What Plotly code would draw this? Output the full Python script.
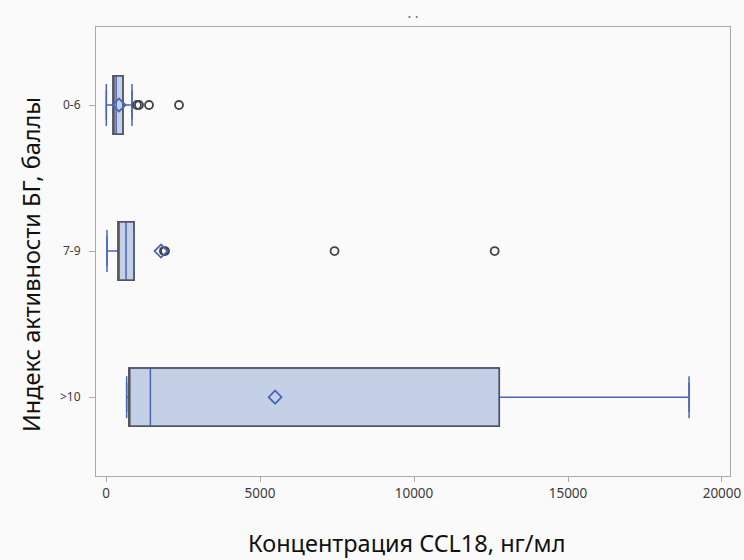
import plotly.graph_objects as go

categories = ["0-6", "7-9", ">10"]
q1 = [227, 390, 740]
median = [330, 650, 1440]
q3 = [552, 909, 12770]
lower_fence = [10, 32, 670]
upper_fence = [844, 909, 18930]
means = [422, 1786, 5490]
outlier_cat = ["0-6", "0-6", "0-6", "0-6", "7-9", "7-9", "7-9", "7-9"]
outlier_val = [1006, 1071, 1396, 2370, 1880, 1916, 7420, 12620]

x_tickvals = [0, 5000, 10000, 15000, 20000]
x_title = "Концентрация CCL18, нг/мл"
y_title = "Индекс активности БГ, баллы"

BLUE = "#4a66b8"
GRAY = "#555555"
FILL = "rgba(196,208,230,1)"

fig = go.Figure()

fig.add_trace(go.Box(
    y=categories, q1=q1, median=median, q3=q3,
    lowerfence=lower_fence, upperfence=upper_fence,
    orientation="h", width=0.4, fillcolor=FILL,
    line=dict(color=BLUE, width=1.5), boxpoints=False,
    hoverinfo="skip", showlegend=False,
))
fig.add_trace(go.Box(
    y=categories, q1=q1, median=q1, q3=q3,
    lowerfence=q1, upperfence=q3,
    orientation="h", width=0.4, fillcolor="rgba(0,0,0,0)",
    line=dict(color=GRAY, width=1.5), boxpoints=False,
    hoverinfo="skip", showlegend=False,
))
fig.add_trace(go.Scatter(
    x=lower_fence + upper_fence, y=categories + categories, mode="markers",
    marker=dict(symbol="line-ns", size=30, line=dict(color=BLUE, width=1.5)),
    showlegend=False, hoverinfo="skip",
))
fig.add_trace(go.Scatter(
    x=outlier_val, y=outlier_cat, mode="markers",
    marker=dict(symbol="circle-open", size=8, color="#444444", line=dict(width=1.8)),
    showlegend=False,
))
fig.add_trace(go.Scatter(
    x=means, y=categories, mode="markers",
    marker=dict(symbol="diamond-open", size=10, color=BLUE, line=dict(width=1.8)),
    showlegend=False,
))

fig.update_layout(
    width=744, height=560,
    margin=dict(l=96, r=14, t=27, b=84),
    paper_bgcolor="#fafafa", plot_bgcolor="#fafafa",
    font=dict(family="Noto Sans", color="#333333"),
    title=dict(text=". .", x=0.5, xref="paper", xanchor="center", y=0.985, yanchor="top",
               font=dict(size=14, color="#666666")),
    annotations=[
        dict(text=x_title, xref="paper", yref="paper", x=0.4905, y=-0.150,
             xanchor="center", yanchor="middle", showarrow=False,
             font=dict(size=23.5, color="#111111")),
        dict(text=y_title, xref="paper", yref="paper", x=-0.1025, y=0.470,
             xanchor="center", yanchor="middle", showarrow=False, textangle=-90,
             font=dict(size=23.5, color="#111111")),
    ],
)
fig.update_xaxes(
    range=[-325, 20260], tickvals=x_tickvals, ticktext=[str(v) for v in x_tickvals],
    automargin=False,
    showgrid=False, zeroline=False, showline=True, mirror=True,
    linecolor="#aaaaaa", linewidth=1.2,
    ticks="outside", ticklen=5, tickcolor="#aaaaaa",
    tickfont=dict(size=13.5, color="#3a3a3a"),
)
fig.update_yaxes(
    type="category", categoryorder="array", categoryarray=categories,
    range=[2.54, -0.534], automargin=False,
    showgrid=False, zeroline=False, showline=True, mirror=True,
    linecolor="#aaaaaa", linewidth=1.2,
    ticks="outside", ticklen=6, tickcolor="#aaaaaa",
    ticklabelstandoff=6,
    tickfont=dict(size=12, color="#3a3a3a"),
)

fig.write_html(
    "out.html",
    config={"displayModeBar": False},
    post_script="document.body.style.margin='0';document.body.style.overflow='hidden';",
)
